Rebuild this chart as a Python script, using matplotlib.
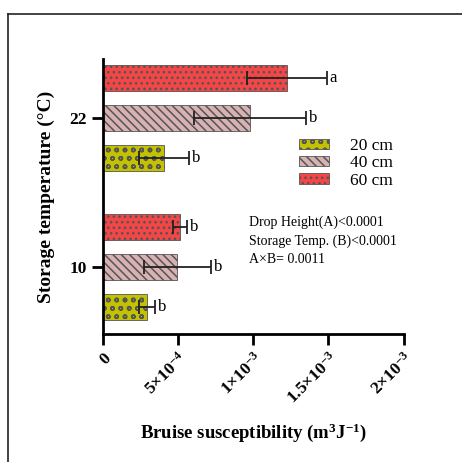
import numpy as np
import matplotlib
matplotlib.use('Agg')
import matplotlib.pyplot as plt
from matplotlib.lines import Line2D
from matplotlib.patches import Patch

plt.rcParams['font.family'] = 'Liberation Serif'
plt.rcParams['hatch.linewidth'] = 1.1
plt.rcParams['mathtext.fontset'] = 'custom'
plt.rcParams['mathtext.rm'] = 'Liberation Serif:bold'
plt.rcParams['mathtext.it'] = 'Liberation Serif:bold'
plt.rcParams['mathtext.bf'] = 'Liberation Serif:bold'

temps = ['10', '22']
heights = ['20 cm', '40 cm', '60 cm']
means = {
    '20 cm': [0.296e-3, 0.407e-3],
    '40 cm': [0.495e-3, 0.978e-3],
    '60 cm': [0.513e-3, 1.222e-3],
}
errs = {
    '20 cm': [0.052e-3, 0.165e-3],
    '40 cm': [0.222e-3, 0.372e-3],
    '60 cm': [0.047e-3, 0.266e-3],
}
letters = {
    '20 cm': ['b', 'b'],
    '40 cm': ['b', 'b'],
    '60 cm': ['b', 'a'],
}
colors = {'20 cm': '#C2C200', '40 cm': '#D8B2B2', '60 cm': '#F44646'}
hatches = {'20 cm': 'oo', '40 cm': '\\\\\\\\', '60 cm': '...'}
offsets = {'20 cm': -0.268, '40 cm': 0.0, '60 cm': 0.268}

fig = plt.figure(figsize=(4.62, 4.62), dpi=100)
ax = fig.add_axes([0.222, 0.277, 0.652, 0.595])

y = np.arange(len(temps))
for h in heights:
    pos = y + offsets[h]
    ax.barh(pos, means[h], height=0.178, color=colors[h], hatch=hatches[h],
            edgecolor='#555555', linewidth=0.6)
    ax.errorbar(means[h], pos, xerr=errs[h], fmt='none', ecolor='#222222',
                elinewidth=1.3, capsize=5, capthick=1.3)
    for m, e, p, lt in zip(means[h], errs[h], pos, letters[h]):
        ax.text(m + e + 0.02e-3, p, lt, va='center', ha='left', fontsize=12)

ax.set_xlim(0, 2e-3)
ax.set_ylim(-0.45, 1.396)
ax.set_yticks(y)
ax.set_yticklabels(temps, fontsize=12.5, fontweight='bold')
ax.set_xticks([0, 5e-4, 1e-3, 1.5e-3, 2e-3])
ax.set_xticklabels(['0', r'5$\times$10$^{-4}$', r'1$\times$10$^{-3}$',
                    r'1.5$\times$10$^{-3}$', r'2$\times$10$^{-3}$'],
                   rotation=45, ha='right', rotation_mode='anchor', fontsize=12.5, fontweight='bold')

for s in ['top', 'right']:
    ax.spines[s].set_visible(False)
for s in ['left', 'bottom']:
    ax.spines[s].set_linewidth(2)
ax.tick_params(axis='both', width=2, length=8, direction='out')

ax.set_ylabel('Storage temperature (°C)', fontsize=14, fontweight='bold', labelpad=10)
ax.set_xlabel(r'Bruise susceptibility (m$^{3}$J$^{-1}$)', fontsize=13.5, fontweight='bold', labelpad=10)

handles = [Patch(facecolor=colors[h], hatch=hatches[h], edgecolor='#555555', linewidth=0.6)
           for h in heights]
ax.legend(handles, heights, loc='upper left', bbox_to_anchor=(0.6, 0.77), frameon=False,
          fontsize=12.5, handlelength=1.75, handleheight=0.55, labelspacing=0.08, handletextpad=1.2)

ax.text(0.485, 0.43, 'Drop Height(A)<0.0001\nStorage Temp. (B)<0.0001\nA\u00d7B= 0.0011',
        transform=ax.transAxes, fontsize=10, va='top', ha='left', linespacing=1.5)

fig.add_artist(Line2D([8 / 462, 8 / 462], [0, 1 - 14 / 462], transform=fig.transFigure,
                      color='#222222', linewidth=1.2))
fig.add_artist(Line2D([8 / 462, 1], [1 - 14 / 462, 1 - 14 / 462], transform=fig.transFigure,
                      color='#222222', linewidth=1.2))

fig.savefig('out.png', dpi=100)
